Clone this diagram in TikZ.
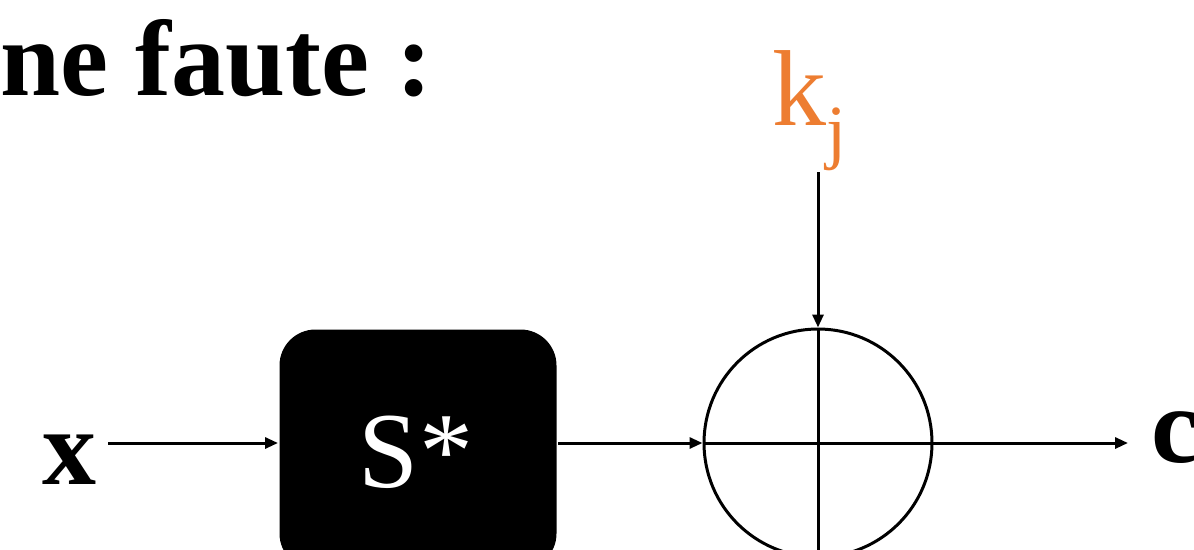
\documentclass[tikz,border=0pt]{standalone}
\usepackage{fontspec}
\setmainfont{Liberation Serif}
\usetikzlibrary{arrows.meta}
\definecolor{kor}{RGB}{237,125,49}
\begin{document}
\begin{tikzpicture}[x=1pt,y=-1pt, line width=3pt,
  arr/.style={-{Triangle[length=13pt,width=11pt]}},
  big/.style={font=\fontsize{108}{110}\selectfont, inner sep=0pt}]
\useasboundingbox (0,0) rectangle (1194,549);
\clip (0,0) rectangle (1194,549);
\node[big, font=\fontsize{108}{110}\selectfont\bfseries, anchor=base east] (title) at (434,95) {ne faute :};
\node[fill=black, rounded corners=36pt, minimum width=277pt, minimum height=240pt, anchor=north west, inner sep=0pt] (S) at (278,328) {};
\node[big, text=white, anchor=base] (Slab) at (416,487) {S*};
\node[circle, draw, minimum size=228pt, inner sep=0pt] (xor) at (818,443) {};
\coordinate (bot) at (818,560);
\draw (xor.north) -- (bot);
\draw (xor.west) -- (xor.east);
\node[big, text=kor, anchor=base] (k) at (809,125) {k\raisebox{-0.28em}{\fontsize{72}{72}\selectfont j}};
\coordinate (kt) at (818,172);
\draw[arr] (kt) -- (xor.north);
\node[big, font=\fontsize{108}{110}\selectfont\bfseries, anchor=base] (x) at (69,484) {x};
\coordinate (xs) at (108,443);
\draw[arr] (xs) -- (S.west |- xs);
\draw[arr] (S.east |- xs) -- (xor.west);
\node[big, font=\fontsize{108}{110}\selectfont\bfseries, anchor=base west] (c) at (1150,462) {c};
\coordinate (ce) at (1128,443);
\draw[arr] (xor.east) -- (ce);
\end{tikzpicture}
\end{document}
